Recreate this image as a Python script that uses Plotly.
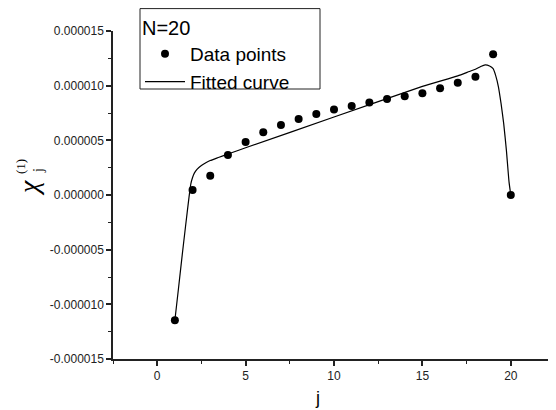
import plotly.graph_objects as go

# Data points (j, chi_j^(1))
j_points = list(range(1, 21))
chi_points = [-11.46e-6, 0.46e-6, 1.77e-6, 3.66e-6, 4.85e-6, 5.73e-6, 6.40e-6, 6.95e-6,
              7.41e-6, 7.81e-6, 8.14e-6, 8.45e-6, 8.78e-6, 9.03e-6, 9.30e-6, 9.76e-6,
              10.27e-6, 10.82e-6, 12.87e-6, 0.0]

# Fitted curve
j_fit = [1.0, 1.2, 1.4, 1.6, 1.8, 1.9, 2.0, 2.1, 2.25, 2.5, 2.75, 3.0, 3.5, 4.0, 5.0,
         10.0, 15.0, 17.0, 17.66, 18.0, 18.3, 18.55, 18.8, 19.0, 19.15, 19.3, 19.45,
         19.6, 19.75, 19.9, 20.0]
chi_fit = [-11.46e-6, -8.6e-6, -5.7e-6, -2.9e-6, -0.2e-6, 1.0e-6, 1.6e-6, 2.0e-6, 2.35e-6,
           2.7e-6, 2.95e-6, 3.15e-6, 3.45e-6, 3.75e-6, 4.32e-6, 7.13e-6, 9.93e-6, 10.9e-6,
           11.3e-6, 11.5e-6, 11.75e-6, 11.9e-6, 11.8e-6, 11.55e-6, 10.9e-6, 9.9e-6, 8.35e-6,
           6.5e-6, 4.1e-6, 1.2e-6, 0.0]

x_tickvals = [0, 5, 10, 15, 20]
y_tickvals = [-15e-6, -10e-6, -5e-6, 0, 5e-6, 10e-6, 15e-6]
y_ticktext = ["-0.000015", "-0.000010", "-0.000005", "0.000000",
              "0.000005", "0.000010", "0.000015"]

fig = go.Figure()
fig.add_trace(go.Scatter(x=j_points, y=chi_points, mode="markers", name="Data points",
                         marker=dict(color="black", size=8)))
fig.add_trace(go.Scatter(x=j_fit, y=chi_fit, mode="lines", name="Fitted curve",
                         line=dict(color="black", width=1.2, shape="spline", smoothing=0.5)))

# page offset (browser body margin)
OFF = 8
W, H = 556 - OFF, 410 - OFF
L = 113 - OFF
T = 31 - OFF
B = H - (359 - OFF)
R = W - (555 - OFF)
pw, ph = W - L - R, H - T - B

def px(x):
    return (x - OFF - L) / pw

def py(y):
    return (H - B - (y - OFF)) / ph

axis_common = dict(showline=True, linecolor="#222", linewidth=1.5, ticks="outside",
                   ticklen=5, tickwidth=1.5, tickcolor="#222", showgrid=False,
                   zeroline=False, mirror=False, automargin=False,
                   tickfont=dict(family="Arial, Liberation Sans", size=12, color="#222"))

fig.update_layout(
    width=W, height=H,
    margin=dict(l=L, r=R, t=T, b=B, pad=0, autoexpand=False),
    paper_bgcolor="white", plot_bgcolor="white",
    font=dict(family="Arial, Liberation Sans", color="black"),
    xaxis=dict(range=[-2.5, 22.5], tickmode="array", tickvals=x_tickvals,
               minor=dict(dtick=2.5, tick0=0, ticks="outside", ticklen=3,
                          tickcolor="#222", tickwidth=1.2),
               **axis_common),
    yaxis=dict(range=[-15e-6, 15e-6], tickmode="array", tickvals=y_tickvals,
               ticktext=y_ticktext,
               minor=dict(dtick=2.5e-6, tick0=0, ticks="outside", ticklen=3,
                          tickcolor="#222", tickwidth=1.2),
               **axis_common),
    showlegend=True,
    legend=dict(x=px(140), y=py(9), xanchor="left", yanchor="top",
                bgcolor="rgba(0,0,0,0)", borderwidth=0,
                font=dict(family="Arial, Liberation Sans", size=19, color="black"),
                title=dict(text="N=20", font=dict(family="Arial, Liberation Sans", size=20)),
                tracegroupgap=0, itemwidth=40),
)

# legend frame
fig.add_shape(type="rect", xref="paper", yref="paper",
              x0=px(140), x1=px(320), y0=py(89), y1=py(8.6),
              line=dict(color="#222", width=1), fillcolor="white", layer="above")

# Axis titles
fig.add_annotation(text="j", xref="paper", yref="paper", x=px(317), y=py(398),
                   xanchor="center", yanchor="middle",
                   showarrow=False, font=dict(family="Arial, Liberation Sans", size=18))
fig.add_annotation(text="<i>χ</i>", xref="paper", yref="paper", x=px(28), y=py(188),
                   xanchor="center", yanchor="middle",
                   showarrow=False, textangle=-90,
                   font=dict(family="Liberation Serif", size=28))
fig.add_annotation(text="j", xref="paper", yref="paper", x=px(38), y=py(171),
                   xanchor="center", yanchor="middle",
                   showarrow=False, textangle=-90,
                   font=dict(family="Liberation Serif", size=14))
fig.add_annotation(text="(1)", xref="paper", yref="paper", x=px(20), y=py(167),
                   xanchor="center", yanchor="middle",
                   showarrow=False, textangle=-90,
                   font=dict(family="Liberation Serif", size=13))

fig.write_html("out.html")
